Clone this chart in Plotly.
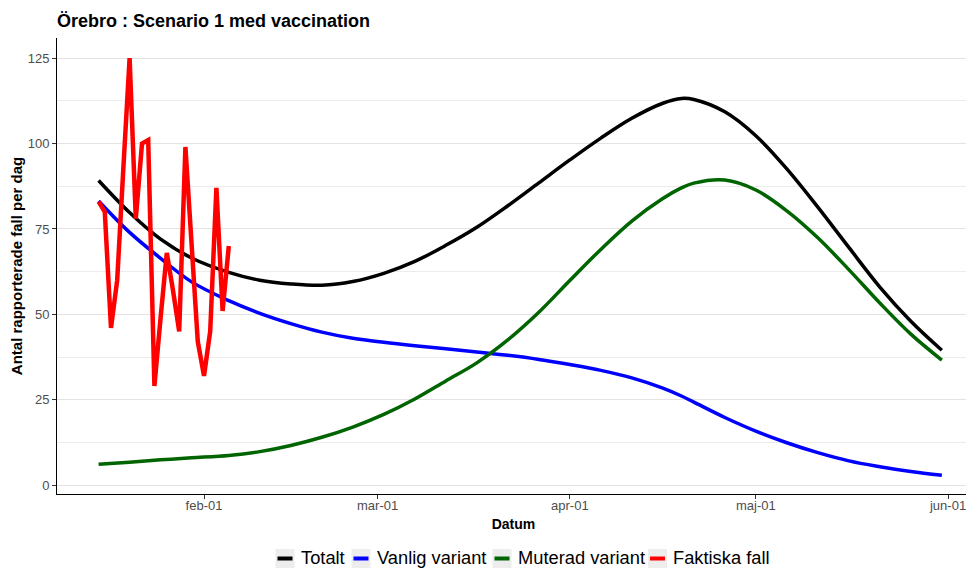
import plotly.graph_objects as go

# Model curve sample dates
model_dates = [
    "2021-01-15", "2021-01-20", "2021-01-25", "2021-01-30", "2021-02-05",
    "2021-02-10", "2021-02-15", "2021-02-20", "2021-02-25", "2021-03-02",
    "2021-03-07", "2021-03-12", "2021-03-17", "2021-03-22", "2021-03-27",
    "2021-04-01", "2021-04-06", "2021-04-11", "2021-04-16", "2021-04-19",
    "2021-04-21", "2021-04-26", "2021-05-01", "2021-05-06", "2021-05-11",
    "2021-05-16", "2021-05-21", "2021-05-26", "2021-05-31",
]
totalt = [89.2, 79.8, 72.0, 66.5, 62.3, 60.0, 58.9, 58.5, 59.6, 62.0,
          65.5, 70.2, 75.5, 81.8, 88.5, 95.2, 101.6, 107.4, 111.8, 113.2,
          112.9, 109.3, 102.3, 92.6, 81.4, 69.6, 58.0, 48.0, 39.5]
vanlig = [83.2, 74.0, 66.4, 59.5, 54.0, 50.3, 47.3, 44.8, 43.0, 41.8,
          40.8, 39.9, 39.0, 38.0, 36.8, 35.3, 33.6, 31.4, 28.4, 26.1,
          24.3, 19.8, 15.8, 12.4, 9.5, 7.1, 5.4, 4.0, 2.9]
muterad = [6.1, 6.7, 7.4, 8.0, 8.7, 9.8, 11.6, 14.0, 17.0, 20.7,
           25.2, 30.5, 35.8, 42.5, 50.6, 59.9, 69.0, 77.3, 83.9, 87.0,
           88.4, 89.3, 86.4, 80.3, 72.4, 63.1, 53.3, 44.2, 36.6]

# Reported cases (daily)
fall_dates = [
    "2021-01-15", "2021-01-16", "2021-01-17", "2021-01-18", "2021-01-19",
    "2021-01-20", "2021-01-21", "2021-01-22", "2021-01-23", "2021-01-24",
    "2021-01-25", "2021-01-26", "2021-01-27", "2021-01-28", "2021-01-29",
    "2021-01-30", "2021-01-31", "2021-02-01", "2021-02-02", "2021-02-03",
    "2021-02-04", "2021-02-05",
]
faktiska = [83, 80, 46, 60, 93, 125, 78, 100, 101, 29, 49, 68, 57, 45, 99,
            70, 42, 32, 45, 87, 51, 70]

tick_dates = ["2021-02-01", "2021-03-01", "2021-04-01", "2021-05-01", "2021-06-01"]
tick_labels = ["feb-01", "mar-01", "apr-01", "maj-01", "jun-01"]
y_ticks = [0, 25, 50, 75, 100, 125]

series_names = ["Totalt", "Vanlig variant", "Muterad variant", "Faktiska fall"]
series_colors = ["#000000", "#0000FF", "#006400", "#FF0000"]

FONT = "Liberation Sans, Arial, sans-serif"
# The page body has an 8px margin, so the figure is drawn 8px in from the top-left.
W, H = 966, 562

fig = go.Figure()
model_vals = [totalt, vanlig, muterad]
for name, color, vals in zip(series_names[:3], series_colors[:3], model_vals):
    fig.add_trace(go.Scatter(x=model_dates, y=vals, mode="lines", name=name,
                             showlegend=False,
                             line=dict(color=color, width=3.5, shape="spline", smoothing=1)))
fig.add_trace(go.Scatter(x=fall_dates, y=faktiska, mode="lines", name=series_names[3],
                         showlegend=False,
                         line=dict(color=series_colors[3], width=4.5)))

# Manual legend (ggplot-like keys) in plot-area fractions (page pixel positions)
PL, PW = 57, 913      # plot left / width in page px
PB, PHt = 494, 456    # plot bottom / height in page px
def px_x(p):
    return (p - PL) / PW
def px_y(p):
    return (PB - p) / PHt

key_lefts = [275.5, 351.5, 492.5, 648.0]
text_lefts = [298.5, 374.5, 515.5, 671.0]
key_w, key_top, key_bot = 19, 549, 568
shapes, annos = [], []
for name, color, kl, tl in zip(series_names, series_colors, key_lefts, text_lefts):
    shapes.append(dict(type="rect", xref="paper", yref="paper",
                       x0=px_x(kl), x1=px_x(kl + key_w), y0=px_y(key_bot), y1=px_y(key_top),
                       fillcolor="#ededed", line=dict(width=0), layer="above"))
    shapes.append(dict(type="line", xref="paper", yref="paper",
                       x0=px_x(kl + 2), x1=px_x(kl + key_w - 2),
                       y0=px_y(558.5), y1=px_y(558.5),
                       line=dict(color=color, width=4), layer="above"))
    annos.append(dict(text=name, xref="paper", yref="paper", x=px_x(tl), y=px_y(557.5),
                      xanchor="left", yanchor="middle", showarrow=False,
                      font=dict(size=18.3, family=FONT, color="#000000")))

fig.update_layout(
    width=W, height=H,
    margin=dict(l=49, r=4, t=30, b=76),
    paper_bgcolor="white", plot_bgcolor="white",
    font=dict(family=FONT, color="#000000"),
    title=dict(text="<b>Örebro : Scenario 1 med vaccination</b>",
               font=dict(size=18, family=FONT, color="#000000"),
               x=49 / W, xanchor="left", xref="container",
               y=1 - 13 / H, yanchor="middle", yref="container"),
    showlegend=False,
    shapes=shapes,
    annotations=annos,
    xaxis=dict(
        type="date",
        range=["2021-01-08 07:00", "2021-06-04 13:00"],
        tickvals=tick_dates, ticktext=tick_labels,
        tickfont=dict(size=13, color="#4d4d4d", family=FONT),
        ticks="outside", ticklen=4, tickcolor="#333333", tickwidth=1,
        ticklabelstandoff=-5,
        showline=True, linecolor="#000000", linewidth=1,
        showgrid=False, zeroline=False, automargin=False,
        title=dict(text="<b>Datum</b>", font=dict(size=14, family=FONT, color="#000000"),
                   standoff=7),
    ),
    yaxis=dict(
        range=[-2.6, 130.9],
        tickvals=y_ticks,
        tickfont=dict(size=13, color="#4d4d4d", family=FONT),
        ticks="outside", ticklen=4, tickcolor="#333333", tickwidth=1,
        showline=True, linecolor="#000000", linewidth=1,
        showgrid=True, gridcolor="#e3e3e3", gridwidth=1,
        minor=dict(tickvals=[12.5, 37.5, 62.5, 87.5, 112.5], showgrid=True,
                   gridcolor="#ececec", gridwidth=1, ticks=""),
        zeroline=False, automargin=False,
        title=dict(text="<b>Antal rapporterade fall per dag</b>",
                   font=dict(size=15, family=FONT, color="#000000"), standoff=4),
    ),
)

fig.write_html("out.html")
